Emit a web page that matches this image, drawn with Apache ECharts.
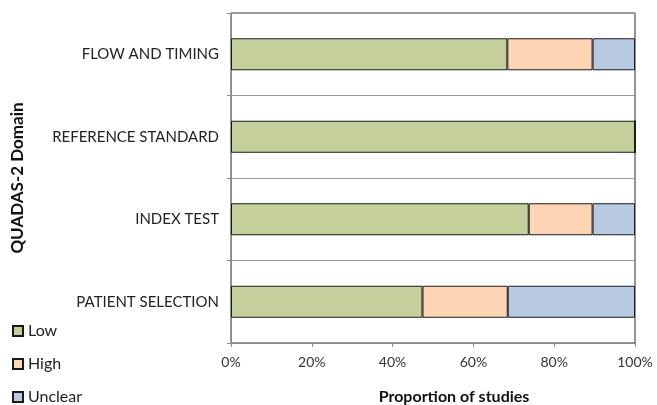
<!DOCTYPE html>
<html><head><meta charset="utf-8">
<script src="https://cdn.jsdelivr.net/npm/echarts@6/dist/echarts.min.js"></script>
<style>html,body{margin:0;padding:0;background:#fff}#c{width:657px;height:405px}</style>
</head><body><div id="c"></div>
<script>
const categories = ['PATIENT SELECTION', 'INDEX TEST', 'REFERENCE STANDARD', 'FLOW AND TIMING'];
const lowValues = [47.4, 73.7, 100, 68.4];
const highValues = [21.1, 15.8, 0, 21.1];
const unclearValues = [31.5, 10.5, 0, 10.5];
const xTicks = [0, 20, 40, 60, 80, 100];

const font = 'Lato, "Open Sans", sans-serif';
const chart = echarts.init(document.getElementById('c'));
const mk = (name, data, color) => ({
  name, type: 'bar', stack: 'total', data, barWidth: 32,
  itemStyle: { color, borderColor: '#1a1a1a', borderWidth: 1 }
});
chart.setOption({
  animation: false,
  textStyle: { fontFamily: font },
  grid: { left: 231, right: 22, top: 13, bottom: 62, show: true, borderColor: '#2a2a2a', borderWidth: 1,
          outerBoundsMode: 'none', containLabel: false },
  legend: {
    orient: 'vertical', left: 12, top: 323, height: 82, padding: 0, itemWidth: 10, itemHeight: 10, itemGap: 17,
    textStyle: { fontSize: 16, lineHeight: 16, color: '#222', fontFamily: font },
    data: ['Low', 'High', 'Unclear'], icon: 'rect'
  },
  xAxis: {
    type: 'value', min: xTicks[0], max: xTicks[xTicks.length - 1], interval: 20,
    name: 'Proportion of studies', nameLocation: 'middle', nameGap: 46,
    nameTextStyle: { fontSize: 16, fontWeight: 'bold', color: '#111', fontFamily: font, padding: [0, 0, 0, 42] },
    axisLine: { show: true, lineStyle: { color: '#8c8c8c' } },
    axisTick: { show: true, length: 4, lineStyle: { color: '#8c8c8c' } },
    axisLabel: { fontSize: 14, color: '#333', margin: 12, formatter: '{value}%' },
    splitLine: { show: false }
  },
  yAxis: {
    type: 'category', data: categories,
    name: 'QUADAS-2 Domain', nameLocation: 'middle', nameGap: 205, nameRotate: 90,
    nameTextStyle: { fontSize: 17, fontWeight: 'bold', color: '#111', fontFamily: font },
    axisLine: { show: true, lineStyle: { color: '#8c8c8c' } },
    axisTick: { show: true, length: 4, lineStyle: { color: '#8c8c8c' } },
    axisLabel: { fontSize: 15, color: '#222', margin: 12 },
    splitLine: { show: true, lineStyle: { color: '#9a9a9a' } }
  },
  series: [
    mk('Low', lowValues, '#c4cf9b'),
    mk('High', highValues, '#fdd4b4'),
    mk('Unclear', unclearValues, '#b8cae2')
  ]
});
</script></body></html>
